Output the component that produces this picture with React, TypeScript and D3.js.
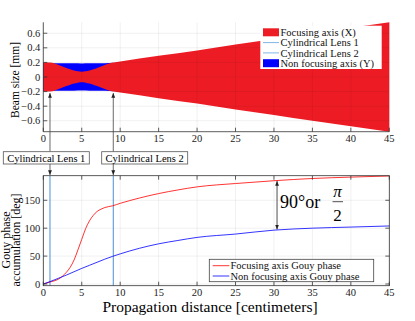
import React from 'react';
import * as d3 from 'd3';

// beam profile (half widths, mm)
const zFocus = [0, 0.87, 1.5, 2, 2.5, 3, 3.5, 4, 4.5, 5, 5.5, 6, 6.5, 7, 7.5, 8, 8.5, 9.1, 10, 15, 20, 25, 30, 35, 40, 45];
const focusWidth = [0.2, 0.2, 0.185, 0.165, 0.145, 0.125, 0.107, 0.09, 0.078, 0.073, 0.078, 0.09, 0.107, 0.125, 0.145, 0.165, 0.185, 0.2, 0.214, 0.29, 0.365, 0.445, 0.52, 0.6, 0.675, 0.75];
const zNon = [0, 0.87, 2, 3, 4, 5, 6, 7, 8, 9.1];
const nonWidth = [0.19, 0.19, 0.189, 0.188, 0.187, 0.186, 0.187, 0.188, 0.19, 0.197];

// Gouy phase (deg)
const zRed = [0, 1, 2, 3, 3.5, 4, 4.5, 5, 5.5, 6, 6.5, 7, 7.5, 8, 9, 10, 12.5, 15, 17.5, 20, 25, 30, 35, 40, 45];
const gouyFocus = [0, 4, 9, 21, 30, 43, 61, 80, 99, 113, 123, 130, 134, 137, 140, 144.5, 154, 162, 168.5, 174, 180, 185, 189, 191.5, 193.5];
const zBlue = [0, 1, 2, 3, 4, 5, 6, 7, 8, 9, 10, 12.5, 15, 17.5, 20, 25, 30, 35, 40, 45];
const gouyNon = [0, 5, 10.5, 16, 22, 28, 33.5, 39, 44.5, 49.5, 54, 64, 72, 78, 83.5, 89.5, 96.5, 100, 102, 104];

const lensPos = [0.87, 9.1];
const lensNames = ['Cylindrical Lens 1', 'Cylindrical Lens 2'];
const xTicks = [0, 5, 10, 15, 20, 25, 30, 35, 40, 45];
const topYTicks = [-0.6, -0.4, -0.2, 0, 0.2, 0.4, 0.6];
const botYTicks = [0, 50, 100, 150];
const topLegend = ['Focusing axis (X)', 'Cylindrical Lens 1', 'Cylindrical Lens 2', 'Non focusing axis (Y)'];
const botLegend = ['Focusing axis Gouy phase', 'Non focusing axis Gouy phase'];

const FONT = '"Liberation Serif", "DejaVu Serif", serif';
const RED = '#ed1c24';
const BLUE = '#0000ff';
const LENS = '#4a90d4';

export default function App() {
  const x = d3.scaleLinear().domain([0, 45]).range([43.3, 389.3]);
  const yT = d3.scaleLinear().domain([-0.75, 0.75]).range([131.7, 22.3]);
  const yB = d3.scaleLinear().domain([-3, 194]).range([285.7, 175.7]);

  const area = (zs: number[], ws: number[]) =>
    d3.area<number>()
      .x((_, i) => x(zs[i]))
      .y0((_, i) => yT(-ws[i]))
      .y1((_, i) => yT(ws[i]))
      .curve(d3.curveMonotoneX)(ws) || '';

  const line = (zs: number[], vals: number[]) =>
    d3.line<number>()
      .x((_, i) => x(zs[i]))
      .y((d) => yB(d))
      .curve(d3.curveMonotoneX)(vals) || '';

  const [x0, x1] = x.range();
  const arrowZ = 30.4;
  const redAt = d3.interpolateNumber(185, 189)((arrowZ - 30) / 5);
  const blueAt = d3.interpolateNumber(96.5, 100)((arrowZ - 30) / 5);

  return (
    <svg width={415} height={321} style={{ position: 'absolute', left: 0, top: 0, background: '#fff' }} fontFamily={FONT}>
      <defs>
        <marker id="ah" viewBox="0 0 10 10" refX="10" refY="5" markerWidth="6" markerHeight="6" orient="auto-start-reverse">
          <path d="M0,1 L10,5 L0,9 z" fill="#222" />
        </marker>
      </defs>

      {/* ---------- top panel ---------- */}
      <path d={area(zNon, nonWidth)} fill={BLUE} />
      <path d={area(zFocus, focusWidth)} fill={RED} />
      <g stroke="#000" strokeOpacity={0.1} strokeWidth={0.6}>
        {xTicks.map((t) => <line key={t} x1={x(t)} x2={x(t)} y1={yT.range()[0]} y2={yT.range()[1]} />)}
        {topYTicks.map((t) => <line key={t} x1={x0} x2={x1} y1={yT(t)} y2={yT(t)} />)}
      </g>
      <g stroke="#333" strokeWidth={0.8}>
        <line x1={x0} x2={x0} y1={yT.range()[1]} y2={yT.range()[0]} />
        <line x1={x0} x2={x1} y1={yT.range()[0]} y2={yT.range()[0]} />
        {topYTicks.map((t) => <line key={t} x1={x0} x2={x0 + 4} y1={yT(t)} y2={yT(t)} />)}
        {xTicks.map((t) => <line key={t} x1={x(t)} x2={x(t)} y1={yT.range()[0]} y2={yT.range()[0] - 4} />)}
      </g>
      <g fontSize={10.5} fill="#222">
        {topYTicks.map((t) => (
          <text key={t} x={x0 - 3} y={yT(t) + 3.5} textAnchor="end">{d3.format('')(+t.toFixed(1))}</text>
        ))}
        {xTicks.map((t) => (
          <text key={t} x={x(t)} y={yT.range()[0] + 10} textAnchor="middle">{t}</text>
        ))}
      </g>
      <text transform="translate(19,80) rotate(-90)" textAnchor="middle" fontSize={11.5}>Beam size [mm]</text>

      {/* top legend */}
      <rect x={260.3} y={25.7} width={121.4} height={43.3} fill="#fff" />
      <g fontSize={10.5} fill="#111">
        {topLegend.map((s, i) => {
          const yy = 32.3 + i * 10.3;
          return (
            <g key={s}>
              {i === 0 || i === 3 ? (
                <rect x={263} y={yy - 4} width={16} height={8} fill={i === 0 ? RED : BLUE} />
              ) : (
                <line x1={263} x2={279} y1={yy} y2={yy} stroke="#7fb6e6" strokeWidth={1} />
              )}
              <text x={280.5} y={yy + 3.6}>{s}</text>
            </g>
          );
        })}
      </g>

      {/* ---------- bottom panel ---------- */}
      <g stroke="#000" strokeOpacity={0.1} strokeWidth={0.6}>
        {xTicks.map((t) => <line key={t} x1={x(t)} x2={x(t)} y1={yB.range()[0]} y2={yB.range()[1]} />)}
        {botYTicks.map((t) => <line key={t} x1={x0} x2={x1} y1={yB(t)} y2={yB(t)} />)}
      </g>
      {lensPos.map((p) => (
        <line key={p} x1={x(p)} x2={x(p)} y1={yB.range()[0]} y2={yB.range()[1]} stroke={LENS} strokeWidth={1} />
      ))}
      <path d={line(zRed, gouyFocus)} fill="none" stroke="#ff0000" strokeWidth={0.8} />
      <path d={line(zBlue, gouyNon)} fill="none" stroke={BLUE} strokeWidth={0.8} />
      <rect x={x0} y={yB.range()[1]} width={x1 - x0} height={yB.range()[0] - yB.range()[1]} fill="none" stroke="#333" strokeWidth={0.8} />
      <g stroke="#333" strokeWidth={0.8}>
        {botYTicks.map((t) => (
          <g key={t}>
            <line x1={x0} x2={x0 + 4} y1={yB(t)} y2={yB(t)} />
            <line x1={x1} x2={x1 - 4} y1={yB(t)} y2={yB(t)} />
          </g>
        ))}
        {xTicks.map((t) => (
          <g key={t}>
            <line x1={x(t)} x2={x(t)} y1={yB.range()[0]} y2={yB.range()[0] - 4} />
            <line x1={x(t)} x2={x(t)} y1={yB.range()[1]} y2={yB.range()[1] + 4} />
          </g>
        ))}
      </g>
      <g fontSize={10.5} fill="#222">
        {botYTicks.map((t) => (
          <text key={t} x={x0 - 3} y={yB(t) + 3.5} textAnchor="end">{t}</text>
        ))}
        {xTicks.map((t) => (
          <text key={t} x={x(t)} y={yB.range()[0] + 10.5} textAnchor="middle">{t}</text>
        ))}
      </g>
      <text transform="translate(10,240) rotate(-90)" textAnchor="middle" fontSize={12}>
        <tspan x={0} dy={0}>Gouy phase</tspan>
        <tspan x={0} dy={9.5}>accumulation [deg]</tspan>
      </text>
      <text x={210} y={312} textAnchor="middle" fontSize={15.5}>Propagation distance [centimeters]</text>

      {/* bottom legend */}
      <rect x={209.3} y={259.3} width={164.4} height={22.4} fill="#fff" stroke="#444" strokeWidth={0.8} />
      <g fontSize={10.5} fill="#111">
        {botLegend.map((s, i) => {
          const yy = 265.7 + i * 10.3;
          return (
            <g key={s}>
              <line x1={212.7} x2={229.3} y1={yy} y2={yy} stroke={i === 0 ? '#ff0000' : BLUE} strokeWidth={0.8} />
              <text x={230.5} y={yy + 3.6}>{s}</text>
            </g>
          );
        })}
      </g>

      {/* 90 deg annotation */}
      <line x1={x(arrowZ)} x2={x(arrowZ)} y1={yB(redAt) + 0.5} y2={yB(blueAt) - 0.5} stroke="#222" strokeWidth={0.8}
        markerStart="url(#ah)" markerEnd="url(#ah)" />
      <text x={280} y={208} fontSize={18}>90°or</text>
      <text x={337.5} y={197} fontSize={17} textAnchor="middle" fontStyle="italic">π</text>
      <line x1={332.5} x2={343} y1={201.7} y2={201.7} stroke="#222" strokeWidth={0.8} />
      <text x={337.5} y={221} fontSize={17} textAnchor="middle">2</text>

      {/* lens callouts */}
      {lensPos.map((p, i) => {
        const bx = i === 0 ? 3.3 : 101.7;
        return (
          <g key={p}>
            <line x1={x(p)} x2={x(p)} y1={151.7} y2={93} stroke="#444" strokeWidth={0.8} markerEnd="url(#ah)" />
            <line x1={x(p)} x2={x(p)} y1={164} y2={175} stroke="#444" strokeWidth={0.8} markerEnd="url(#ah)" />
            <rect x={bx} y={151.7} width={86} height={12.3} fill="#fff" stroke="#555" strokeWidth={0.8} />
            <text x={bx + 43} y={161.5} textAnchor="middle" fontSize={10.5}>{lensNames[i]}</text>
          </g>
        );
      })}
    </svg>
  );
}
